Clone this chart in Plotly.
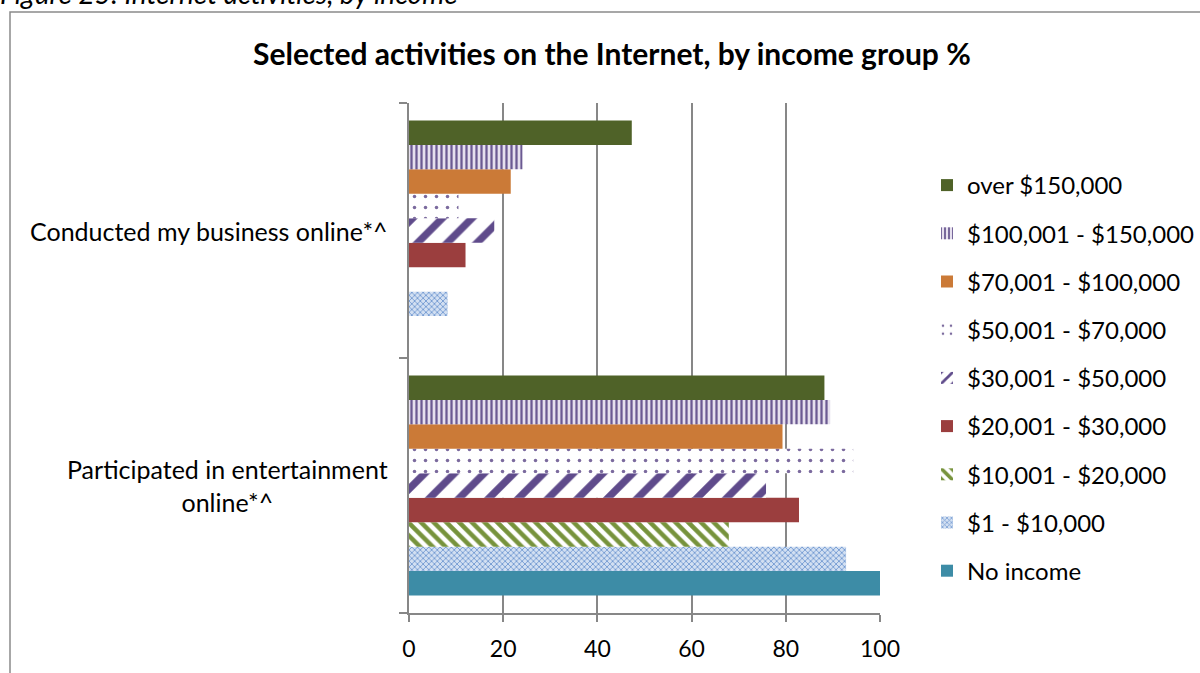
import plotly.graph_objects as go

# Categories (bottom to top on the category axis)
categories = ["Participated in entertainment online*^", "Conducted my business online*^"]
category_labels = ["Participated in entertainment<br>online*^", "Conducted my business online*^"]

# Income groups, listed from the bottom bar upward within each category
groups = [
    "No income",
    "$1 - $10,000",
    "$10,001 - $20,000",
    "$20,001 - $30,000",
    "$30,001 - $50,000",
    "$50,001 - $70,000",
    "$70,001 - $100,000",
    "$100,001 - $150,000",
    "over $150,000",
]

# Percent values per group: [entertainment, business]
no_income = [100.0, None]
inc_1_10k = [92.8, 8.2]
inc_10_20k = [67.9, None]
inc_20_30k = [82.8, 12.0]
inc_30_50k = [75.8, 18.1]
inc_50_70k = [94.3, 10.5]
inc_70_100k = [79.3, 21.6]
inc_100_150k = [89.4, 24.1]
inc_over_150k = [88.2, 47.3]

values = [no_income, inc_1_10k, inc_10_20k, inc_20_30k, inc_30_50k,
          inc_50_70k, inc_70_100k, inc_100_150k, inc_over_150k]

x_ticks = [0, 20, 40, 60, 80, 100]

# Fill style for each group: solid colour or a hatch pattern
styles = [
    dict(color="#3D8CA6"),
    dict(color="#D3E0F2", pattern=dict(shape="x", fgcolor="#7299D2", bgcolor="#D3E0F2", size=4, solidity=0.4, fillmode="replace")),
    dict(color="#FFFFFF", pattern=dict(shape="\\", fgcolor="#77933C", bgcolor="#FFFFFF", size=9, solidity=0.5, fillmode="replace")),
    dict(color="#9B3E3E"),
    dict(color="#FFFFFF", pattern=dict(shape="/", fgcolor="#5F4B8B", bgcolor="#FFFFFF", size=21, solidity=0.35, fillmode="replace")),
    dict(color="#FFFFFF", pattern=dict(shape=".", fgcolor="#7B6A9E", bgcolor="#FFFFFF", size=11, solidity=0.08, fillmode="replace")),
    dict(color="#CB7A37"),
    dict(color="#E6E0EE", pattern=dict(shape="|", fgcolor="#6B5A92", bgcolor="#E6E0EE", size=5, solidity=0.45, fillmode="replace")),
    dict(color="#4F6228"),
]

FONT = "Lato, 'Open Sans', sans-serif"

fig = go.Figure()
n = len(groups)
for i, (name, vals, st) in enumerate(zip(groups, values, styles)):
    fig.add_trace(go.Bar(
        y=categories,
        x=vals,
        name=name,
        orientation="h",
        marker=dict(line=dict(width=0), **st),
        legendgroup=name,
        legendrank=n - i,
    ))

# Plot area in pixels: x 409..880, y 103..613
L, R, T, B = 409, 320, 103, 60
W, H = 1200, 673
pw, ph = W - L - R, H - T - B


def px_x(px):
    return (px - L) / pw


def px_y(py):
    return (H - B - py) / ph


annotations = [
    dict(text="<b>Selected activities on the Internet, by income group %</b>",
         x=px_x(612), y=px_y(53), xref="paper", yref="paper",
         xanchor="center", yanchor="middle", showarrow=False,
         font=dict(family=FONT, size=30, color="#000000")),
    dict(text="<i>Figure 25: Internet activities, by income</i>",
         x=px_x(-2), y=px_y(-7), xref="paper", yref="paper",
         xanchor="left", yanchor="middle", showarrow=False,
         font=dict(family=FONT, size=28, color="#000000")),
]
for cat, lab in zip(categories, category_labels):
    annotations.append(dict(
        text=lab, x=px_x(390), y=cat, xref="paper", yref="y",
        xanchor="right", yanchor="middle", align="center", showarrow=False,
        font=dict(family=FONT, size=25, color="#000000"),
    ))

fig.update_layout(
    width=W, height=H,
    margin=dict(l=L, r=R, t=T, b=B, autoexpand=False),
    paper_bgcolor="#FFFFFF",
    plot_bgcolor="#FFFFFF",
    barmode="group",
    bargap=0.137,
    bargroupgap=0,
    font=dict(family=FONT, size=24, color="#000000"),
    showlegend=True,
    legend=dict(
        x=px_x(927), y=px_y(378), xanchor="left", yanchor="middle",
        traceorder="grouped", tracegroupgap=14,
        font=dict(family=FONT, size=24, color="#000000"),
        bgcolor="rgba(0,0,0,0)",
    ),
    xaxis=dict(
        range=[0, 100], tickvals=x_ticks, ticktext=[str(v) for v in x_ticks],
        showgrid=True, gridcolor="#878787", gridwidth=1.5,
        showline=True, linecolor="#878787", linewidth=1.5,
        ticks="outside", ticklen=7, tickcolor="#878787", tickwidth=1.5,
        tickfont=dict(family=FONT, size=23, color="#000000"),
        ticklabelstandoff=8,
        zeroline=False, fixedrange=True,
    ),
    yaxis=dict(
        categoryorder="array", categoryarray=categories,
        showticklabels=False,
        ticks="outside", tickson="boundaries", ticklen=8,
        tickcolor="#878787", tickwidth=1.5,
        showline=True, linecolor="#878787", linewidth=1.5,
        showgrid=False, zeroline=False, fixedrange=True,
    ),
    annotations=annotations,
    shapes=[dict(
        type="rect", xref="paper", yref="paper",
        x0=px_x(10), x1=px_x(1215), y0=px_y(12), y1=px_y(700),
        line=dict(color="#8A8A8A", width=1.5), fillcolor="rgba(0,0,0,0)",
        layer="below",
    )],
)

fig.write_html("out.html")
